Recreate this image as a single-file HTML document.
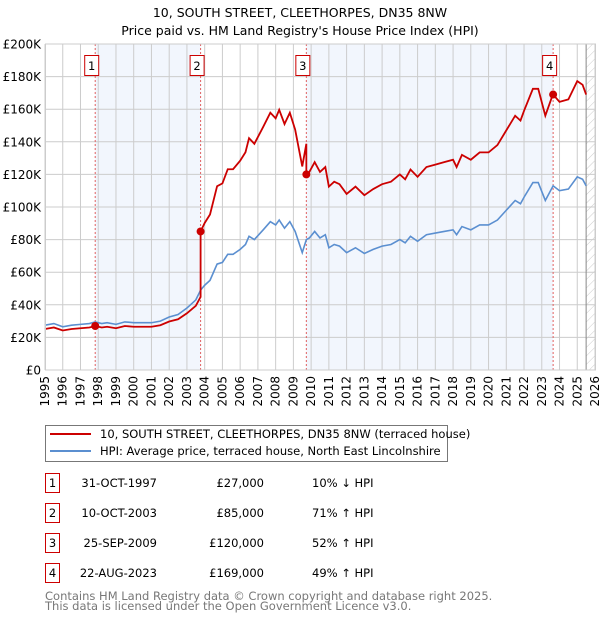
<!DOCTYPE html>
<html><head><meta charset="utf-8"><style>
body{margin:0;background:#fff;font-family:"DejaVu Sans","Liberation Sans",sans-serif;}
svg text{font-family:"DejaVu Sans","Liberation Sans",sans-serif;}
</style></head><body>
<svg id="chart" width="600" height="620" xmlns="http://www.w3.org/2000/svg">
<defs><pattern id="hatch" width="6" height="6" patternUnits="userSpaceOnUse" patternTransform="rotate(45)"><line x1="0" y1="0" x2="0" y2="6" stroke="#ccc" stroke-width="1"/></pattern></defs>
<text x="300" y="17" text-anchor="middle" font-size="12.5">10, SOUTH STREET, CLEETHORPES, DN35 8NW</text>
<text x="300" y="35" text-anchor="middle" font-size="12.5">Price paid vs. HM Land Registry's House Price Index (HPI)</text>
<g id="plot"></g>
<g>
<rect x="45.5" y="425.5" width="402" height="36" fill="#fff" stroke="#777"/>
<line x1="50" y1="434" x2="91" y2="434" stroke="#cc0000" stroke-width="2"/>
<text x="100" y="438" font-size="11.5">10, SOUTH STREET, CLEETHORPES, DN35 8NW (terraced house)</text>
<line x1="50" y1="451" x2="91" y2="451" stroke="#5b8fd0" stroke-width="2"/>
<text x="100" y="455" font-size="11.5">HPI: Average price, terraced house, North East Lincolnshire</text>
</g>
<g id="table"></g>
<text x="45" y="600" font-size="11.5" fill="#777">Contains HM Land Registry data © Crown copyright and database right 2025.</text>
<text x="45" y="610" font-size="11.5" fill="#777">This data is licensed under the Open Government Licence v3.0.</text>
</svg>
<script>
const hpiYears=[1995,1995.5,1996,1996.5,1997,1997.5,1997.83,1998.2,1998.5,1999,1999.5,2000,2000.5,2001,2001.5,2002,2002.5,2003,2003.5,2003.77,2004,2004.3,2004.7,2005,2005.3,2005.6,2006,2006.3,2006.5,2006.8,2007.3,2007.7,2008,2008.2,2008.5,2008.8,2009.1,2009.5,2009.73,2009.9,2010.2,2010.5,2010.8,2011,2011.3,2011.6,2012,2012.5,2013,2013.5,2014,2014.5,2015,2015.3,2015.6,2016,2016.5,2017,2017.5,2018,2018.2,2018.5,2019,2019.5,2020,2020.5,2021,2021.5,2021.8,2022,2022.5,2022.8,2023.2,2023.64,2024,2024.5,2025,2025.3,2025.5];
const hpiValues=[27.5,28.5,26.5,27.5,28,28.5,29.5,28.5,29,28,29.5,29,29,29,30,32.5,34,38,43,49,52,55,65,66,71,71,74,77,82,80,86,91,89,92,87,91,85,72,80,81,85,81,83,75,77,76,72,75,71.5,74,76,77,80,78,82,79,83,84,85,86,83,88,86,89,89,92,98,104,102,106,115,115,104,113,110,111,118.5,117,113];
const saleYears=[1997.83,2003.77,2009.73,2023.64];
const salePrices=[27,85,120,169];
const saleLabels=['1','2','3','4'];
const saleDates=['31-OCT-1997','10-OCT-2003','25-SEP-2009','22-AUG-2023'];
const salePriceText=['£27,000','£85,000','£120,000','£169,000'];
const saleHpiText=['10% ↓ HPI','71% ↑ HPI','52% ↑ HPI','49% ↑ HPI'];
const yTicks=[0,20,40,60,80,100,120,140,160,180,200];
const xTicks=[1995,1996,1997,1998,1999,2000,2001,2002,2003,2004,2005,2006,2007,2008,2009,2010,2011,2012,2013,2014,2015,2016,2017,2018,2019,2020,2021,2022,2023,2024,2025,2026];

const NS='http://www.w3.org/2000/svg';
const X0=45,X1=595,Y0=370,Y1=44;
const xs=y=>X0+(y-1995)/(2026-1995)*(X1-X0);
const ys=v=>Y0-v/200*(Y0-Y1);
const plot=document.getElementById('plot');
function mk(tag,attrs,parent){const e=document.createElementNS(NS,tag);for(const k in attrs)e.setAttribute(k,attrs[k]);(parent||plot).appendChild(e);return e;}
function interp(y){for(let i=0;i<hpiYears.length-1;i++){if(y>=hpiYears[i]&&y<=hpiYears[i+1]){const t=(y-hpiYears[i])/(hpiYears[i+1]-hpiYears[i]);return hpiValues[i]+t*(hpiValues[i+1]-hpiValues[i]);}}return hpiValues[hpiValues.length-1];}
for(let i=0;i<saleYears.length;i+=2){const end=i+1<saleYears.length?saleYears[i+1]:2025.5;
const r=mk('rect',{x:xs(saleYears[i]),y:Y1,width:xs(end)-xs(saleYears[i]),height:Y0-Y1,fill:'#eef3fc',opacity:0.75});

}
const hx=xs(2025.5);
const h=mk('rect',{x:hx,y:Y1,width:X1-hx,height:Y0-Y1,fill:'url(#hatch)'});


xTicks.forEach(t=>{const l=mk('line',{x1:xs(t),x2:xs(t),y1:Y1,y2:Y0,stroke:'#cccccc'});


const tx=xs(t)+4,ty=Y0+6;
const tt=mk('text',{x:tx,y:ty,'font-size':12,'text-anchor':'end',transform:`rotate(-90 ${tx} ${ty})`});tt.textContent=t;

});
yTicks.forEach(t=>{const l=mk('line',{x1:X0,x2:X1,y1:ys(t),y2:ys(t),stroke:'#cccccc'});


const tt=mk('text',{x:X0-4,y:ys(t)+4.5,'font-size':12,'text-anchor':'end'});tt.textContent=t===0?'£0':'£'+t+'K';

});
const nl=mk('line',{x1:hx,x2:hx,y1:Y1,y2:Y0,stroke:'#888'});


saleYears.forEach((s,i)=>{const l=mk('line',{x1:xs(s),x2:xs(s),y1:Y1,y2:Y0,stroke:'#e06060','stroke-dasharray':'2,2'});


const b=mk('rect',{x:xs(s)-10.5,y:55.5,width:14,height:20,fill:'#fff',stroke:'#cc0000'});


const t=mk('text',{x:xs(s)-3.5,y:70,'font-size':11.5,'text-anchor':'middle'});t.textContent=saleLabels[i];

});
const hp=mk('polyline',{points:hpiYears.map((y,i)=>xs(y)+','+ys(hpiValues[i])).join(' '),fill:'none',stroke:'#5b8fd0','stroke-width':1.6});


const pts=[];
for(let i=0;i<hpiYears.length;i++){const y=hpiYears[i];let k=0;for(let j=0;j<saleYears.length;j++)if(y>=saleYears[j]-0.001)k=j;
const f=salePrices[k]/interp(saleYears[k]);
if(i>0&&saleYears.includes(y)&&k>0){const fp=salePrices[k-1]/interp(saleYears[k-1]);pts.push([y,interp(y)*fp]);}
pts.push([y,hpiValues[i]*f]);}
const pp=mk('polyline',{points:pts.map(p=>xs(p[0])+','+ys(p[1])).join(' '),fill:'none',stroke:'#cc0000','stroke-width':1.8});


saleYears.forEach((s,i)=>{const d=mk('circle',{cx:xs(s),cy:ys(salePrices[i]),r:4,fill:'#cc0000'});

});
const tb=document.getElementById('table');
saleYears.forEach((s,i)=>{const cy=483+i*30;
mk('rect',{x:45.5,y:cy-9.5,width:14,height:19,fill:'#fff',stroke:'#cc0000'},tb);
const a=mk('text',{x:52.5,y:cy+4,'font-size':11.5,'text-anchor':'middle'},tb);a.textContent=saleLabels[i];


const b=mk('text',{x:157,y:cy+4,'font-size':11.5,'text-anchor':'end'},tb);b.textContent=saleDates[i];


const c=mk('text',{x:264,y:cy+4,'font-size':11.5,'text-anchor':'end'},tb);c.textContent=salePriceText[i];


const d=mk('text',{x:312,y:cy+4,'font-size':11.5},tb);d.textContent=saleHpiText[i];

});
const fr=mk('rect',{x:X0+0.5,y:Y1,width:X1-X0,height:Y0-Y1,fill:'none',stroke:'#ccc'});


</script>
</body></html>
